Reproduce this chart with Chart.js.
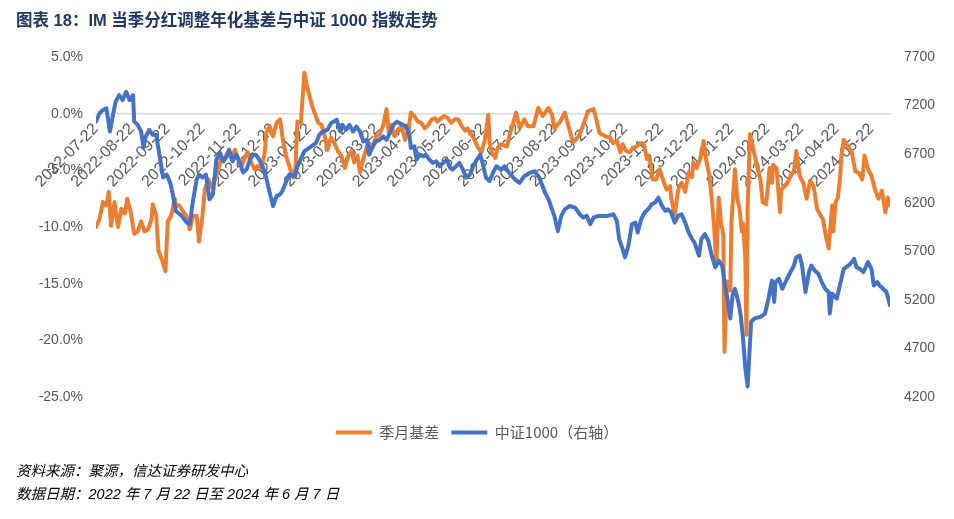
<!DOCTYPE html>
<html>
<head>
<meta charset="utf-8">
<script src="https://cdn.jsdelivr.net/npm/chart.js@4.4.1/dist/chart.umd.min.js"></script>
<style>
html,body{margin:0;padding:0;background:#fff;}
#wrap{position:relative;width:954px;height:519px;overflow:hidden;background:#fff;}
#c{position:absolute;left:0;top:0;}
#title{position:absolute;left:16px;top:9px;font:bold 16.5px "Liberation Sans","Noto Sans CJK SC",sans-serif;color:#1F3864;white-space:nowrap;line-height:22px;}
.note{position:absolute;left:16px;font:italic 14.5px "Liberation Sans","Noto Sans CJK SC",sans-serif;color:#000;white-space:nowrap;line-height:20px;}
</style>
</head>
<body>
<div id="wrap">
<canvas id="c" width="954" height="519"></canvas>
<div id="title">图表 18：IM 当季分红调整年化基差与中证 1000 指数走势</div>
<div class="note" style="top:461px">资料来源：聚源，信达证券研发中心</div>
<div class="note" style="top:484px">数据日期：2022 年 7 月 22 日至 2024 年 6 月 7 日</div>
</div>
<script>
// ---------- data ----------
const startDate = '2022-07-22';
const endDate = '2024-06-07';
const monthLabels = ['2022-07-22','2022-08-22','2022-09-22','2022-10-22','2022-11-22','2022-12-22',
  '2023-01-22','2023-02-22','2023-03-22','2023-04-22','2023-05-22','2023-06-22','2023-07-22',
  '2023-08-22','2023-09-22','2023-10-22','2023-11-22','2023-12-22','2024-01-22','2024-02-22',
  '2024-03-22','2024-04-22','2024-05-22'];

const seriesNames = ['季月基差', '中证1000（右轴）'];

// days since 2022-07-22 for each basis observation
const basisDays = [0,3,6,9,11,13,16,19,22,25,27,30,33,36,39,42,45,48,49,52,
  54,57,60,62,65,68,69,72,75,78,81,84,87,89,92,94,97,100,102,105,
  108,111,114,117,120,123,126,128,131,134,137,140,143,146,147,150,153,156,159,161,
  164,167,170,172,174,177,180,183,187,192,195,198,200,203,206,209,212,215,218,221,
  223,226,228,231,234,236,239,242,245,248,251,253,255,258,261,264,267,270,272,275,
  278,281,284,287,290,293,295,298,301,304,307,310,313,316,319,321,324,327,330,333,
  336,339,340,342,345,347,350,355,357,363,366,370,373,378,382,386,391,394,396,401,
  405,409,412,417,421,425,430,432,435,440,444,447,450,453,455,458,461,464,467,470,
  473,476,478,481,484,487,490,493,496,497,500,503,506,509,512,515,516,519,522,525,
  527,530,532,534,536,538,539,540,542,543,545,548,549,552,554,556,558,559,561,562,
  563,565,568,571,574,576,579,582,584,585,588,591,592,597,601,603,605,608,611,614,
  617,620,623,626,628,631,633,636,637,639,641,643,644,646,650,653,656,659,662,664,
  667,670,673,676,679,682,684,686];
// annualised basis, %
const basisValues = [-10.0,-9.3,-7.8,-8.1,-6.9,-9.9,-7.8,-10.0,-8.4,-8.8,
  -7.5,-8.7,-10.6,-10.4,-9.5,-10.4,-10.2,-9.3,-8.0,-9.0,
  -12.1,-12.9,-13.9,-9.5,-9.0,-7.5,-8.1,-8.1,-8.6,-9.0,
  -10.2,-9.0,-9.0,-11.3,-9.0,-6.7,-5.8,-6.5,-6.0,-5.2,
  -4.0,-4.0,-3.4,-3.9,-3.2,-4.0,-4.6,-4.0,-3.4,-4.3,
  -4.9,-4.6,-4.8,-3.3,-1.7,-1.1,-2.0,-0.8,-0.5,-2.0,
  -3.7,-4.6,-5.6,-5.6,-0.7,-0.8,3.6,2.1,0.6,-0.8,
  -1.0,-2.1,-3.2,-2.1,-2.6,-3.3,-3.7,-4.8,-3.7,-3.3,
  -4.3,-3.7,-5.2,-4.0,-2.9,-2.6,-3.0,-2.0,-1.8,-1.1,
  0.4,-1.7,-1.0,-2.0,-1.4,-1.1,-2.3,-1.4,0.1,-0.2,
  -0.7,-0.8,-1.3,-1.0,-0.5,-0.4,-0.7,-0.4,-0.2,-0.4,
  -0.8,-0.5,-0.5,-1.1,-1.5,-1.3,-1.8,-2.3,-3.0,-3.4,
  -2.3,-0.1,-2.6,-3.4,-3.9,-3.0,-2.7,-2.9,-2.0,0.1,
  -1.3,-0.5,-1.1,-1.1,0.5,-0.2,0.5,-0.1,-1.3,-0.7,
  0.1,-1.4,-2.5,-2.0,-1.0,0.2,0.4,-0.4,-1.7,-2.0,
  -2.1,-2.6,-2.4,-3.4,-2.7,-3.3,-3.4,-3.0,-2.9,-2.6,
  -2.6,-4.0,-3.7,-5.8,-5.8,-4.9,-5.9,-6.7,-6.4,-7.5,
  -8.9,-6.7,-6.1,-6.9,-5.2,-5.6,-4.3,-4.8,-4.0,-2.4,
  -4.0,-5.5,-7.5,-9.9,-13.4,-7.4,-8.4,-9.6,-10.7,-21.0,
  -14.8,-15.6,-9.6,-4.9,-7.5,-8.4,-10.4,-9.7,-12.8,-19.5,
  -8.4,-1.8,-3.2,-4.6,-5.8,-7.8,-8.0,-4.8,-6.1,-4.5,
  -4.8,-8.7,-6.7,-6.2,-5.3,-5.1,-3.3,-5.5,-6.1,-7.5,
  -5.9,-6.4,-8.4,-9.0,-9.3,-11.0,-11.9,-8.1,-10.4,-7.8,
  -7.4,-5.5,-3.7,-2.3,-2.9,-3.4,-5.1,-5.2,-5.8,-3.7,
  -4.9,-5.5,-6.7,-7.5,-6.8,-8.7,-7.4,-8.1];

// days since 2022-07-22 for each CSI 1000 observation
const csiDays = [0,3,6,9,12,15,17,20,23,26,29,32,33,36,39,41,43,46,49,52,
  55,58,61,64,66,69,74,78,81,84,87,89,92,95,98,101,104,107,110,113,
  115,118,121,124,127,130,133,136,138,141,144,147,150,153,156,159,161,164,167,172,
  174,180,186,190,193,196,200,203,208,211,213,216,219,222,225,228,231,234,236,239,
  242,245,248,251,254,257,260,262,265,268,271,272,275,277,280,283,285,288,291,294,
  297,300,303,306,308,311,314,317,320,323,326,329,332,334,337,340,343,346,350,353,
  357,362,366,370,375,379,383,388,391,394,396,399,402,405,409,414,418,421,424,427,
  430,434,438,442,447,450,452,455,457,460,463,466,468,471,474,477,480,483,486,489,
  492,494,497,500,503,506,509,512,515,517,521,523,526,529,532,535,538,541,543,546,
  548,550,552,555,557,559,561,563,566,569,574,578,581,584,586,587,590,593,597,600,
  603,605,608,610,613,616,618,621,624,627,630,633,634,636,640,643,646,650,653,655,
  657,660,663,667,670,672,675,677,680,683,686];
// CSI 1000 index level (right axis)
const csiValues = [7035,7121,7155,7172,6933,7124,7240,7308,7257,7342,
  7257,7308,7035,7002,6933,6766,6882,6950,6899,6899,
  6677,6460,6490,6409,6306,6115,6064,6000,5979,6235,
  6439,6490,6460,6490,6235,6286,6644,6715,6626,6677,
  6746,6626,6695,6626,6511,6541,6644,6695,6695,6644,
  6575,6460,6306,6166,6268,6286,6320,6409,6490,6473,
  6575,6729,6780,6814,6899,6933,6950,7019,7053,6933,
  7002,6950,7002,6933,6984,6933,6831,6848,6695,6780,
  6831,6848,6882,6848,6917,7002,7035,7019,7002,6984,
  6882,6763,6780,6644,6695,6677,6695,6644,6610,6626,
  6575,6610,6644,6559,6541,6575,6610,6541,6457,6490,
  6575,6644,6695,6610,6457,6422,6508,6575,6541,6575,
  6508,6439,6405,6473,6508,6524,6457,6303,6235,6132,
  6064,5907,6064,6132,6166,6150,6081,6048,6064,5979,
  6048,6064,6064,6064,6081,6013,5826,5723,5639,5757,
  5979,5996,5894,6030,6099,6132,6184,6201,6252,6166,
  6115,6132,6099,5996,6064,6081,5996,5894,5826,5792,
  5655,5826,5877,5808,5655,5536,5604,5553,5383,5178,
  5008,5246,5314,5178,5041,4803,4496,4309,4974,5008,
  5025,5059,5212,5399,5178,5383,5417,5314,5417,5485,
  5553,5639,5655,5553,5281,5485,5553,5502,5468,5383,
  5314,5281,5059,5263,5212,5366,5519,5553,5588,5621,
  5536,5519,5485,5588,5519,5348,5383,5348,5314,5281,5144];

// axis ranges / ticks
const leftAxis = {min: -25, max: 5, step: 5};
const rightAxis = {min: 4200, max: 7700, step: 500};

// ---------- chart ----------
const DAY = 86400000;
const dayOf = s => Math.round((Date.parse(s) - Date.parse(startDate)) / DAY);
const tickDays = monthLabels.map(dayOf);
const lastDay = dayOf(endDate);

const basisPoints = basisDays.map((d, i) => ({x: d, y: basisValues[i]}));
const csiPoints = csiDays.map((d, i) => ({x: d, y: csiValues[i]}));

const ORANGE = '#ED7D31';
const BLUE = '#4472C4';
const TICK_COLOR = '#595959';
const FONT = '"Liberation Sans", "Noto Sans CJK SC", sans-serif';

const legendPlace = {
  id: 'legendPlace',
  afterLayout(chart) {
    const lg = chart.legend;
    if (!lg) return;
    const shift = 16;
    lg.top += shift;
    lg.bottom += shift;
  }
};

new Chart(document.getElementById('c'), {
  type: 'line',
  data: {
    datasets: [
      {
        label: seriesNames[0],
        data: basisPoints,
        yAxisID: 'y',
        borderColor: ORANGE,
        backgroundColor: ORANGE,
        borderWidth: 4,
        pointRadius: 0,
        tension: 0,
        borderJoinStyle: 'round',
        borderCapStyle: 'round',
        order: 1
      },
      {
        label: seriesNames[1],
        data: csiPoints,
        yAxisID: 'y1',
        borderColor: BLUE,
        backgroundColor: BLUE,
        borderWidth: 4,
        pointRadius: 0,
        tension: 0,
        borderJoinStyle: 'round',
        borderCapStyle: 'round',
        order: 0
      }
    ]
  },
  options: {
    responsive: false,
    animation: false,
    devicePixelRatio: 1,
    layout: {padding: {top: 57, left: 0, right: 0, bottom: 85}},
    plugins: {
      tooltip: {enabled: false},
      title: {display: false},
      legend: {
        display: true,
        position: 'bottom',
        align: 'center',
        labels: {
          boxWidth: 36,
          boxHeight: 4,
          padding: 12,
          color: TICK_COLOR,
          font: {size: 15, family: '"Noto Sans CJK SC", "Liberation Sans", sans-serif'},
          sort: (a, b) => a.datasetIndex - b.datasetIndex,
          generateLabels(chart) {
            return Chart.defaults.plugins.legend.labels.generateLabels(chart).map(it => {
              it.lineWidth = 0;
              return it;
            });
          }
        }
      }
    },
    scales: {
      x: {
        type: 'linear',
        position: {y: 0},
        min: 0,
        max: lastDay,
        afterBuildTicks(scale) {
          scale.ticks = tickDays.map(v => ({value: v}));
        },
        ticks: {
          autoSkip: false,
          minRotation: 45,
          maxRotation: 45,
          padding: 6,
          color: TICK_COLOR,
          font: {size: 16, family: FONT},
          callback: (v, i) => monthLabels[i]
        },
        grid: {display: false, drawTicks: false},
        border: {display: true, color: '#D9D9D9', width: 1.5}
      },
      y: {
        type: 'linear',
        position: 'left',
        min: leftAxis.min,
        max: leftAxis.max,
        afterFit(scale) { scale.width = 96; },
        ticks: {
          stepSize: leftAxis.step,
          padding: 13,
          color: TICK_COLOR,
          font: {size: 14, family: FONT},
          callback: v => v.toFixed(1) + '%'
        },
        grid: {display: false, drawTicks: false},
        border: {display: false}
      },
      y1: {
        type: 'linear',
        position: 'right',
        min: rightAxis.min,
        max: rightAxis.max,
        afterFit(scale) { scale.width = 64; },
        ticks: {
          stepSize: rightAxis.step,
          padding: 14,
          color: TICK_COLOR,
          font: {size: 14, family: FONT},
          callback: v => String(v)
        },
        grid: {display: false, drawTicks: false},
        border: {display: false}
      }
    }
  },
  plugins: [legendPlace]
});
</script>
</body>
</html>
